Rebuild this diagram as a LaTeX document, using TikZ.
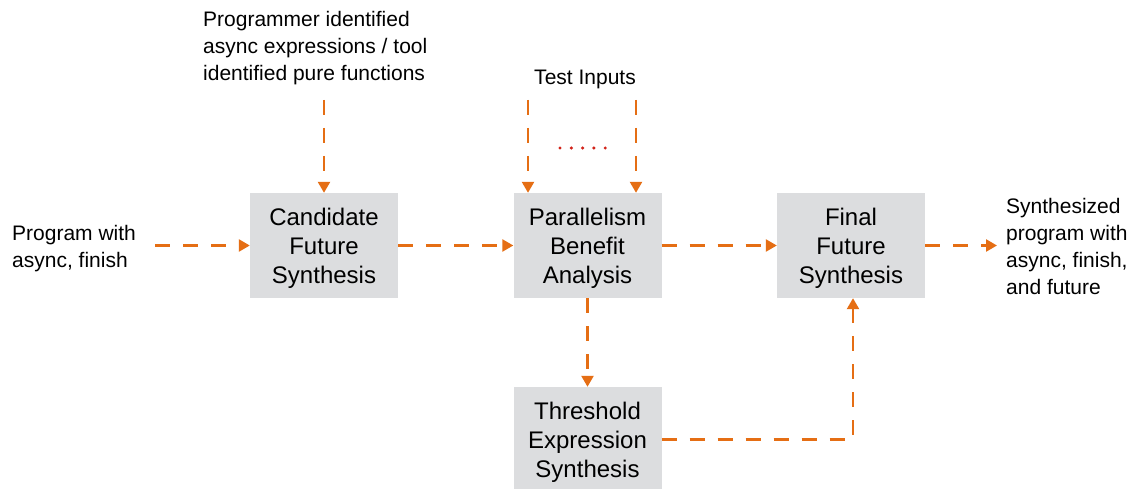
\documentclass[tikz,border=0pt]{standalone}
\usepackage{fontspec}
\setmainfont{Liberation Sans}
\usetikzlibrary{arrows.meta}
\definecolor{flow}{RGB}{229,110,20}
\definecolor{boxgray}{RGB}{220,221,223}
\definecolor{dotred}{RGB}{210,35,25}
\newcommand{\topstrut}{\rule{0pt}{23.5pt}}
\tikzset{
  procbox/.style={fill=boxgray, draw=none, minimum width=148pt, minimum height=105pt, align=center, font=\fontsize{24}{29}\selectfont, inner sep=0pt},
  lbl/.style={align=left, font=\fontsize{21}{27}\selectfont, inner sep=0pt},
  flowarrow/.style={draw=flow, line width=2.4pt, dash pattern=on 15pt off 13pt, -{Triangle[width=12pt,length=11pt,fill=flow]}},
}
\begin{document}
\begin{tikzpicture}[x=1pt,y=-1pt]
\useasboundingbox (0,0) rectangle (1143,489);
\fill[white] (0,0) rectangle (1143,489);
\node[procbox] (cand) at (324,245.5) {\topstrut Candidate\\Future\\Synthesis};
\node[procbox] (par) at (587.5,245.5) {\topstrut Parallelism\\Benefit\\Analysis};
\node[procbox] (fin) at (851,245.5) {\topstrut Final\\Future\\Synthesis};
\node[procbox] (thr) at (587.5,439.5) {\topstrut Threshold\\Expression\\Synthesis};

\node[lbl, anchor=west] (prog) at (12,248.5) {Program with\\async, finish};
\node[lbl, anchor=west] (synth) at (1006,246) {Synthesized\\program with\\async, finish,\\and future};
\node[lbl, anchor=west] (progr) at (203,48) {Programmer identified\\async expressions / tool\\identified pure functions};
\node[lbl, align=center] (test) at (585,79) {Test Inputs};

\coordinate (inL) at (155,245.5);
\coordinate (outR) at (997,245.5);
\coordinate (topC) at (324,100);
\coordinate (t1) at (528,100);
\coordinate (t2) at (636,100);

\draw[flowarrow] (inL) -- (cand.west);
\draw[flowarrow] (cand.east) -- (par.west);
\draw[flowarrow] (par.east) -- (fin.west);
\draw[flowarrow] (fin.east) -- (outR);
\draw[flowarrow] (topC) -- (cand.north);
\draw[flowarrow] (t1) -- (t1 |- par.north);
\draw[flowarrow] (t2) -- (t2 |- par.north);
\draw[flowarrow] (par.south) -- (thr.north);
\draw[flowarrow] (thr.east) -| ([xshift=2pt]fin.south);

\foreach \i in {0,...,4} \fill[dotred] (560+11.3*\i,148) circle (1.7);
\end{tikzpicture}
\end{document}
